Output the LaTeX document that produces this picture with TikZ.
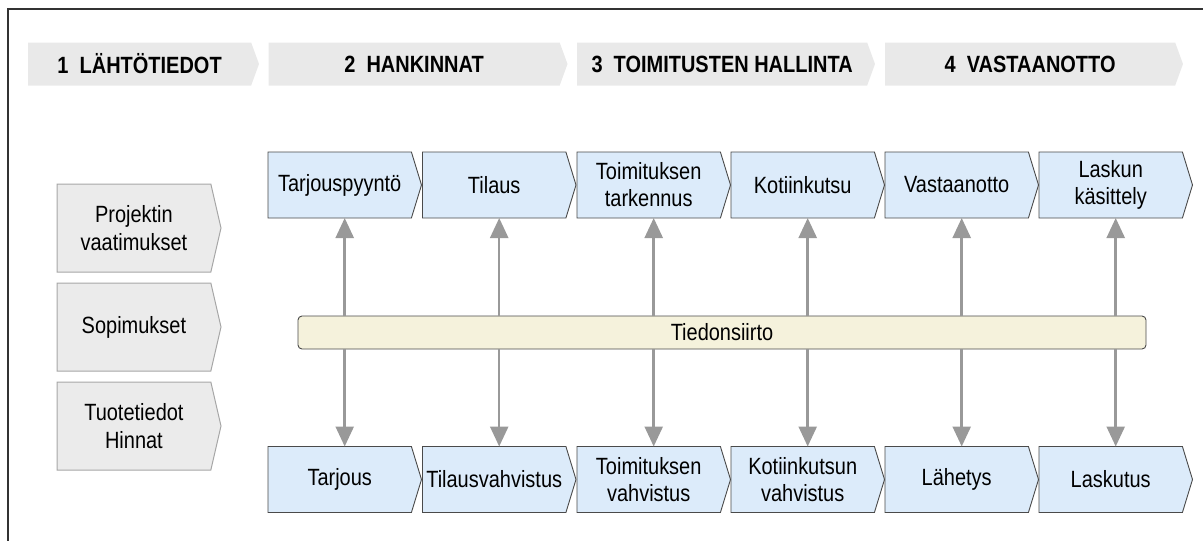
\documentclass[tikz,border=0pt]{standalone}
\usepackage{fontspec}
\setmainfont{Liberation Sans}[FakeStretch=0.85]
\usetikzlibrary{shapes.symbols,arrows.meta}

\definecolor{headfill}{HTML}{E9E9E9}
\definecolor{inputfill}{HTML}{EBEBEB}
\definecolor{inputline}{HTML}{A6A6A6}
\definecolor{stepfill}{HTML}{DCEBFA}
\definecolor{stepline}{HTML}{4A4A4A}
\definecolor{barfill}{HTML}{F5F2DC}
\definecolor{linkgray}{HTML}{999999}

\begin{document}
\begin{tikzpicture}[x=1pt, y=-1pt,
    phase/.style={signal, signal to=east, signal pointer angle=140,
        fill=headfill, minimum height=43pt, inner sep=0pt, outer sep=0pt,
        anchor=west, font=\fontsize{23.5}{28}\selectfont\bfseries},
    input/.style={signal, signal to=east, signal pointer angle=154,
        draw=inputline, line width=1pt, fill=inputfill, minimum width=164pt,
        minimum height=88pt, inner sep=0pt, outer sep=0pt, anchor=west,
        align=center, font=\fontsize{23.5}{28}\selectfont},
    task/.style={signal, signal to=east, signal pointer angle=146,
        draw=stepline, line width=0.9pt, fill=stepfill, minimum width=153.5pt,
        minimum height=66pt, inner sep=0pt, outer sep=0pt, anchor=west,
        align=center, font=\fontsize{23.5}{27}\selectfont},
    bus/.style={rectangle, rounded corners=4pt, draw=stepline, line width=0.9pt,
        fill=barfill, minimum width=848pt, minimum height=33pt, inner sep=0pt,
        outer sep=0pt, font=\fontsize{23.5}{28}\selectfont},
    link/.style={draw=linkgray, line width=2.5pt,
        -{Triangle[width=18pt,length=20pt]}}
]
    \useasboundingbox (0,0) rectangle (1203,541);
    \draw[line width=1.5pt, black!80] (8,541) -- (8,9) -- (1203,9);

    % phases
    \node[phase, minimum width=231pt] (p1) at (28,64) {1~~LÄHTÖTIEDOT};
    \node[phase, minimum width=299pt] (p2) at (268.5,64) {2~~HANKINNAT};
    \node[phase, minimum width=298pt] (p3) at (577,64) {3~~TOIMITUSTEN HALLINTA};
    \node[phase, minimum width=298pt] (p4) at (885,64) {4~~VASTAANOTTO};

    % starting data
    \node[input] (i1) at (57,228) {Projektin\\vaatimukset};
    \node[input] (i2) at (57,327) {Sopimukset};
    \node[input] (i3) at (57,426) {Tuotetiedot\\Hinnat};

    % buyer side
    \node[task] (t1) at (268,185) {Tarjouspyyntö};
    \node[task] (t2) at (422.5,185) {Tilaus};
    \node[task] (t3) at (577,185) {Toimituksen\\tarkennus};
    \node[task] (t4) at (731,185) {Kotiinkutsu};
    \node[task] (t5) at (885,185) {Vastaanotto};
    \node[task] (t6) at (1039,185) {Laskun\\käsittely};

    % supplier side
    \node[task] (b1) at (268,479.5) {Tarjous};
    \node[task] (b2) at (422.5,479.5) {Tilausvahvistus};
    \node[task] (b3) at (577,479.5) {Toimituksen\\vahvistus};
    \node[task] (b4) at (731,479.5) {Kotiinkutsun\\vahvistus};
    \node[task] (b5) at (885,479.5) {Lähetys};
    \node[task] (b6) at (1039,479.5) {Laskutus};

    \node[bus] (bar) at (722,332.5) {Tiedonsiirto};

    \draw[link] ([xshift=5pt]bar.north -| t1.south) -- ([xshift=5pt]t1.south);
    \draw[link] ([xshift=5pt]bar.north -| t2.south) -- ([xshift=5pt]t2.south);
    \draw[link] ([xshift=5pt]bar.north -| t3.south) -- ([xshift=5pt]t3.south);
    \draw[link] ([xshift=5pt]bar.north -| t4.south) -- ([xshift=5pt]t4.south);
    \draw[link] ([xshift=5pt]bar.north -| t5.south) -- ([xshift=5pt]t5.south);
    \draw[link] ([xshift=5pt]bar.north -| t6.south) -- ([xshift=5pt]t6.south);
    \draw[link] ([xshift=5pt]bar.south -| b1.north) -- ([xshift=5pt]b1.north);
    \draw[link] ([xshift=5pt]bar.south -| b2.north) -- ([xshift=5pt]b2.north);
    \draw[link] ([xshift=5pt]bar.south -| b3.north) -- ([xshift=5pt]b3.north);
    \draw[link] ([xshift=5pt]bar.south -| b4.north) -- ([xshift=5pt]b4.north);
    \draw[link] ([xshift=5pt]bar.south -| b5.north) -- ([xshift=5pt]b5.north);
    \draw[link] ([xshift=5pt]bar.south -| b6.north) -- ([xshift=5pt]b6.north);
\end{tikzpicture}
\end{document}
